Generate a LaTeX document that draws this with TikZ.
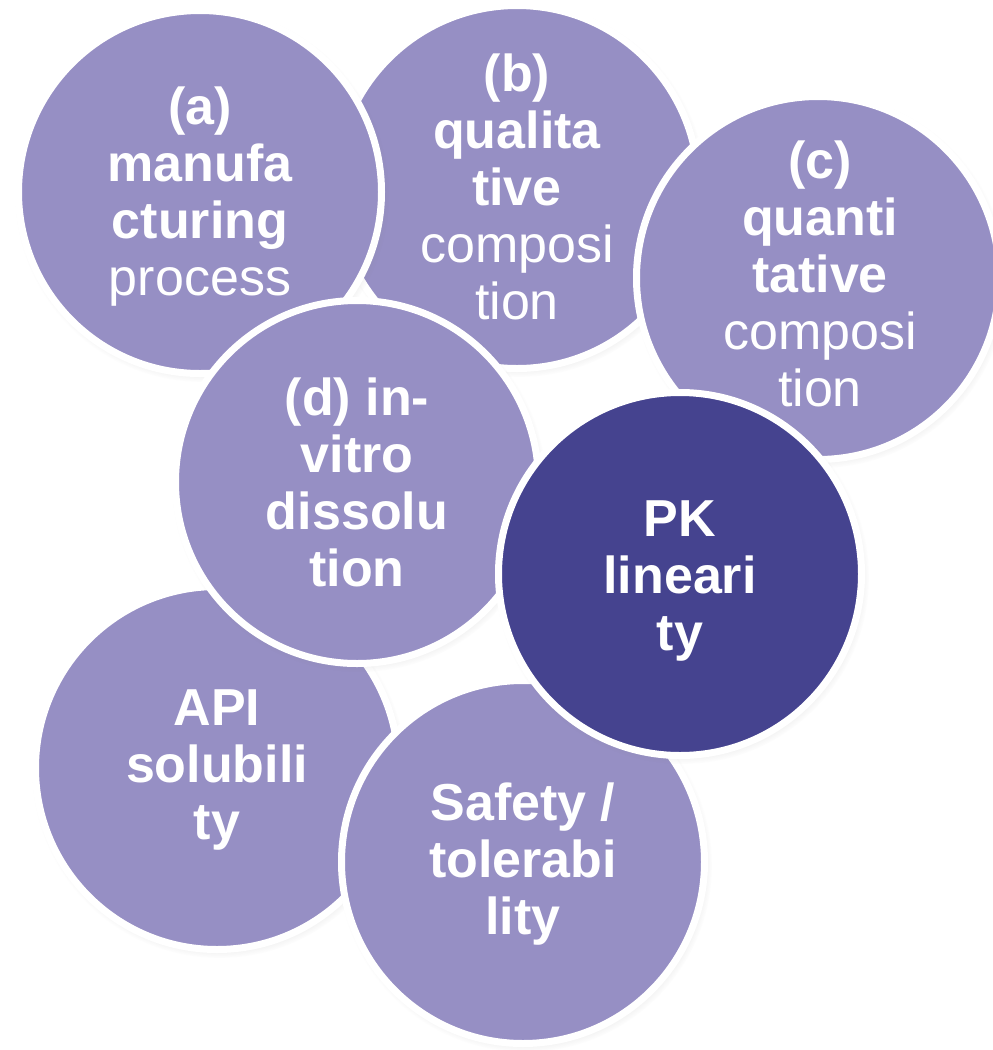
\documentclass[tikz,border=0pt]{standalone}
\usepackage{fontspec}
\setmainfont{Liberation Sans}
\usetikzlibrary{shadows}
\definecolor{lightp}{HTML}{968FC4}
\definecolor{darkp}{HTML}{45438F}
\begin{document}
\begin{tikzpicture}[x=1pt,y=-1pt,
  bubble/.style={circle, draw=white, line width=7pt, minimum size=363pt, inner sep=0pt,
    fill=lightp,
    circular drop shadow={shadow scale=1.03, shadow xshift=2pt, shadow yshift=-3pt, opacity=0.35}},
  darkbubble/.style={bubble, fill=darkp},
  btext/.style={text=white, align=center, inner sep=0pt,
    font=\fontsize{52}{57}\selectfont\bfseries}]
\useasboundingbox (0,0) rectangle (993,1050);
\node[bubble] (nb) at (517,187) {};
\node[btext] (nb-t) at (517,187) {(b)\\qualita\\tive\\{\mdseries composi}\\{\mdseries tion}};
\node[bubble] (na) at (200,192) {};
\node[btext] (na-t) at (200,197) {(a)\\manufa\\cturing\\{\mdseries process}};
\node[bubble] (nc) at (818,278) {};
\node[btext] (nc-t) at (820,274) {(c)\\quanti\\tative\\{\mdseries composi}\\{\mdseries tion}};
\node[bubble] (napi) at (217,768) {};
\node[btext] (napi-t) at (217,770) {API\\solubili\\ty};
\node[bubble] (nd) at (357,482) {};
\node[btext] (nd-t) at (357,482) {(d) in-\\vitro\\dissolu\\tion};
\node[bubble] (ns) at (523,862) {};
\node[btext] (ns-t) at (523,864) {Safety /\\tolerabi\\lity};
\node[darkbubble] (npk) at (680,574) {};
\node[btext] (npk-t) at (680,581) {PK\\lineari\\ty};
\end{tikzpicture}
\end{document}
